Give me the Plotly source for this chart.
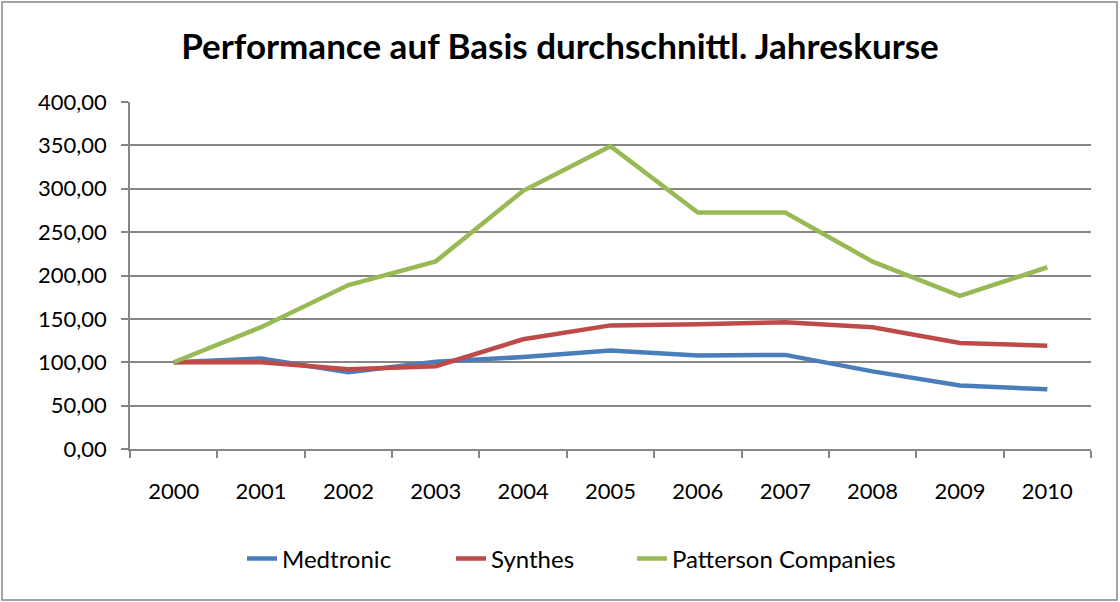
import plotly.graph_objects as go

years = ["2000", "2001", "2002", "2003", "2004", "2005", "2006", "2007", "2008", "2009", "2010"]
medtronic = [100, 104.3, 88.5, 100.5, 106, 113.5, 107.7, 108.5, 89.5, 73.2, 68.8]
synthes = [100, 100, 92, 95.5, 126.5, 142.5, 143.8, 146, 140.4, 122.3, 118.9]
patterson = [100, 140.4, 189, 216.3, 297.6, 349, 272.5, 272.5, 216, 176.5, 209.5]
y_ticks = [0, 50, 100, 150, 200, 250, 300, 350, 400]

W, H = 1120, 602
ml, mr, mt, mb = 130, 29, 102, 153
pw, ph = W - ml - mr, H - mt - mb

fig = go.Figure()
series = [("Medtronic", medtronic, "#4A7EBB", "legend", 242),
          ("Synthes", synthes, "#BE4B48", "legend2", 451),
          ("Patterson Companies", patterson, "#98B954", "legend3", 632)]
legend_cfg = {}
for name, vals, col, lg, lx in series:
    fig.add_trace(go.Scatter(x=years, y=vals, name=name, mode="lines",
                             line=dict(color=col, width=4.5), legend=lg))
    legend_cfg[lg] = dict(orientation="h", x=(lx - ml) / pw, xanchor="left",
                          y=-(559 - 449) / ph, yanchor="middle",
                          font=dict(size=24), bgcolor="rgba(0,0,0,0)")

fig.add_shape(type="rect", xref="paper", yref="paper",
              x0=-(ml - 2) / pw, x1=1 + (mr - 3) / pw,
              y0=-(mb - 2) / ph, y1=1 + (mt - 2) / ph,
              line=dict(color="#868686", width=1.5), layer="below")

fig.update_layout(
    width=W, height=H,
    margin=dict(l=ml, r=mr, t=mt, b=mb, pad=0),
    paper_bgcolor="white", plot_bgcolor="white",
    separators=",.",
    font=dict(family="Lato, Open Sans, sans-serif", size=22, color="black"),
    title=dict(text="<b>Performance auf Basis durchschnittl. Jahreskurse</b>",
               x=0.5, xanchor="center", y=1 - 47 / H, yanchor="middle",
               font=dict(size=35, family="Lato, Open Sans, sans-serif")),
    showlegend=True,
    **legend_cfg,
    xaxis=dict(type="category", tickson="boundaries", ticks="outside", ticklen=7,
               tickcolor="#868686", tickwidth=1.5, showline=True, linecolor="#868686",
               linewidth=1.5, showgrid=False, range=[-0.5, 10.5],
               tickfont=dict(size=22), ticklabelstandoff=22),
    yaxis=dict(range=[0, 400], tickvals=y_ticks, tickformat=".2f", ticks="outside",
               ticklen=7, tickcolor="#868686", tickwidth=1.5, showline=True,
               linecolor="#868686", linewidth=1.5, showgrid=True, gridcolor="#868686",
               gridwidth=1.5, zeroline=False, tickfont=dict(size=22),
               ticklabelstandoff=10),
)
fig.write_html("out.html", config={"displayModeBar": False},
               post_script="document.body.style.margin='0';")
